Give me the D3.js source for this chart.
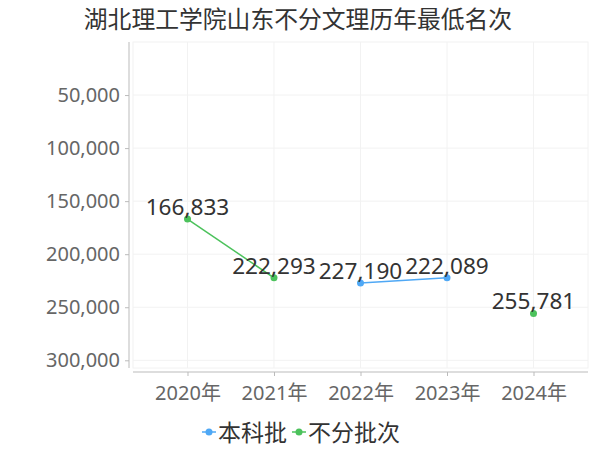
<!DOCTYPE html>
<html><head><meta charset="utf-8">
<script src="https://cdn.jsdelivr.net/npm/d3@7"></script>
<style>body{margin:0;background:#fff}svg{display:block}text{font-family:"Noto Sans","Noto Sans CJK SC",sans-serif}</style>
</head><body><svg id="c" width="600" height="450"></svg>
<script>
const title = "湖北理工学院山东不分文理历年最低名次";
const categories = ["2020年","2021年","2022年","2023年","2024年"];
const seriesNames = ["本科批","不分批次"];
const seriesColors = ["#4fa8f5","#4cc25c"];
const benke = [null,null,227190,222089,null];
const bufen = [166833,222293,null,null,255781];
const yTicks = [50000,100000,150000,200000,250000,300000];

const svg = d3.select("#c");
const L = 133, R = 588, T = 42, B = 368;
const x = d3.scalePoint().domain(categories).range([L, R]).padding(0.63);
const y = d3.scaleLinear().domain([0, 307260]).range([T, B]);

svg.append("text").attr("x",298).attr("y",28).attr("text-anchor","middle")
  .attr("font-size",23.8).attr("fill","#333").text(title);

// grid
const g = svg.append("g");
g.selectAll(".hg").data(yTicks).join("line")
  .attr("x1",L).attr("x2",R).attr("y1",d=>y(d)).attr("y2",d=>y(d))
  .attr("stroke","#f2f2f2");
g.selectAll(".vg").data(categories).join("line")
  .attr("x1",d=>x(d)).attr("x2",d=>x(d)).attr("y1",T).attr("y2",B)
  .attr("stroke","#f2f2f2");
g.append("rect").attr("x",L).attr("y",T).attr("width",R-L).attr("height",B-T)
  .attr("fill","none").attr("stroke","#f2f2f2");

// y axis
const ya = svg.append("g").attr("transform",`translate(129,0)`)
  .call(d3.axisLeft(y).tickValues(yTicks).tickFormat(d3.format(",")).tickSize(4).tickSizeOuter(0));
ya.select(".domain").attr("stroke","#bbb").attr("d",`M0,${T}V${B}`);
ya.selectAll(".tick line").attr("stroke","#bbb");
ya.selectAll("text").attr("font-size",20).attr("fill","#666").attr("font-family",'"Noto Sans",sans-serif').attr("dx",-2);

// x axis
const xa = svg.append("g").attr("transform",`translate(0,372)`)
  .call(d3.axisBottom(x).tickSize(4).tickSizeOuter(0));
xa.select(".domain").attr("stroke","#bbb").attr("d",`M${L},0H${R}`);
xa.selectAll(".tick line").attr("stroke","#bbb");
xa.selectAll("text").attr("font-size",20).attr("fill","#666").attr("dy","1.05em").attr("font-family",'"Noto Sans","Noto Sans CJK SC",sans-serif');

// series
[benke, bufen].forEach((vals, i) => {
  const pts = categories.map((c, j) => ({c, v: vals[j]})).filter(d => d.v != null);
  const line = d3.line().x(d=>x(d.c)).y(d=>y(d.v));
  const segs = [];
  let cur = [];
  categories.forEach((c, j) => {
    if (vals[j] != null) cur.push({c, v: vals[j]});
    else { if (cur.length) segs.push(cur); cur = []; }
  });
  if (cur.length) segs.push(cur);
  segs.forEach(s => { if (s.length > 1) svg.append("path").attr("d", line(s)).attr("fill","none")
    .attr("stroke", seriesColors[i]).attr("stroke-width",1.5); });
  svg.selectAll(null).data(pts).join("circle").attr("cx",d=>x(d.c)).attr("cy",d=>y(d.v))
    .attr("r",3.5).attr("fill",seriesColors[i]);
  svg.selectAll(null).data(pts).join("text").attr("x",d=>x(d.c)).attr("y",d=>y(d.v)-4)
    .attr("text-anchor","middle").attr("font-size",22.6).attr("fill","#333")
    .text(d=>d3.format(",")(d.v));
});

// legend
const lg = svg.append("g");
const legendItems = [{x:202, tx:218}, {x:292, tx:308}];
seriesNames.forEach((n, i) => {
  const it = legendItems[i];
  lg.append("line").attr("x1",it.x).attr("x2",it.x+14).attr("y1",432).attr("y2",432)
    .attr("stroke",seriesColors[i]).attr("stroke-width",1.5);
  lg.append("circle").attr("cx",it.x+7).attr("cy",432).attr("r",3.5).attr("fill",seriesColors[i]);
  lg.append("text").attr("x",it.tx).attr("y",441).attr("font-size",23).attr("fill","#333")
    .attr("font-family",'"Noto Sans CJK SC",sans-serif').text(n);
});
</script></body></html>
